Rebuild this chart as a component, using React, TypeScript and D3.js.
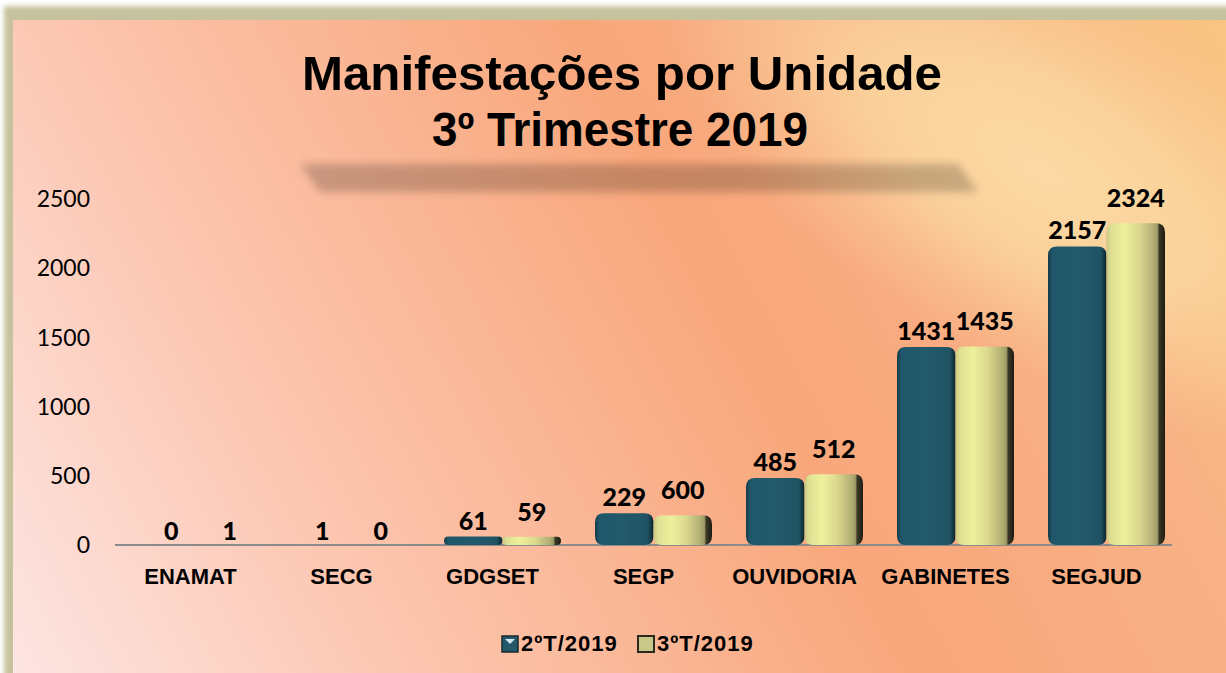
import React from 'react';
import * as d3 from 'd3';

const titleLines = ['Manifestações por Unidade', '3º Trimestre 2019'];
const categories = ['ENAMAT', 'SECG', 'GDGSET', 'SEGP', 'OUVIDORIA', 'GABINETES', 'SEGJUD'];
const seriesNames = ['2ºT/2019', '3ºT/2019'];
// bar heights as drawn in the picture
const values2T = [0, 1, 61, 229, 485, 1431, 2157];
const values3T = [1, 0, 59, 215, 512, 1435, 2324];
// data labels as printed in the picture
const labels2T = ['0', '1', '61', '229', '485', '1431', '2157'];
const labels3T = ['1', '0', '59', '600', '512', '1435', '2324'];
const yTicks = [0, 500, 1000, 1500, 2000, 2500];

const W = 1226;
const H = 673;

function roundedBar(x0: number, y0: number, w: number, h: number) {
  const r = Math.min(9, h / 2, w / 2);
  const x1 = x0 + w;
  const y1 = y0 + h;
  const p = d3.path();
  p.moveTo(x0 + r, y0);
  p.lineTo(x1 - r, y0);
  p.quadraticCurveTo(x1, y0, x1, y0 + r);
  p.lineTo(x1, y1 - r);
  p.quadraticCurveTo(x1, y1, x1 - r, y1);
  p.lineTo(x0 + r, y1);
  p.quadraticCurveTo(x0, y1, x0, y1 - r);
  p.lineTo(x0, y0 + r);
  p.quadraticCurveTo(x0, y0, x0 + r, y0);
  p.closePath();
  return p.toString();
}

export default function App() {
  const x = d3.scaleBand<string>().domain(categories).range([115, 1172]);
  const xs = d3.scaleBand<string>().domain(seriesNames).range([27, 144]);
  const y = d3.scaleLinear().domain([0, 2500]).range([545, 199]);
  const series = [
    { name: seriesNames[0], values: values2T, labels: labels2T, fill: 'url(#gBlue)', labelOff: 7 },
    { name: seriesNames[1], values: values3T, labels: labels3T, fill: 'url(#gYellow)', labelOff: 16 },
  ];
  const catFont = '"Liberation Sans", Arial, sans-serif';
  const numFont = 'Lato, "Open Sans", sans-serif';

  return (
    <svg
      width={W}
      height={H}
      viewBox={`0 0 ${W} ${H}`}
      style={{ position: 'absolute', left: 0, top: 0, display: 'block' }}
    >
      <defs>
        <filter id="blurFrame" x="-10%" y="-10%" width="120%" height="120%">
          <feGaussianBlur stdDeviation="2.5" />
        </filter>
        <filter id="blurShadow" x="-10%" y="-50%" width="120%" height="200%">
          <feGaussianBlur stdDeviation="4" />
        </filter>
        <linearGradient id="bgLin" gradientUnits="userSpaceOnUse" x1="13" y1="673" x2="1226" y2="20">
          <stop offset="0" stopColor="#fde5e3" />
          <stop offset="0.25" stopColor="#fcc6b0" />
          <stop offset="0.58" stopColor="#f8a77b" />
          <stop offset="0.8" stopColor="#f8b085" />
          <stop offset="1" stopColor="#f9c582" />
        </linearGradient>
        <radialGradient
          id="bgRad"
          gradientUnits="userSpaceOnUse"
          cx="0"
          cy="0"
          r="1"
          gradientTransform="translate(1040,170) rotate(31) scale(430,190)"
        >
          <stop offset="0" stopColor="#fcdca6" stopOpacity="0.95" />
          <stop offset="0.45" stopColor="#fbd8a0" stopOpacity="0.8" />
          <stop offset="1" stopColor="#fbd09a" stopOpacity="0" />
        </radialGradient>
        <linearGradient id="gBlue" x1="0" x2="1" y1="0" y2="0">
          <stop offset="0" stopColor="#143a46" />
          <stop offset="0.07" stopColor="#20566a" />
          <stop offset="0.5" stopColor="#225a6b" />
          <stop offset="0.9" stopColor="#1f5364" />
          <stop offset="0.97" stopColor="#12323c" />
          <stop offset="1" stopColor="#0c2229" />
        </linearGradient>
        <linearGradient id="gYellow" x1="0" x2="1" y1="0" y2="0">
          <stop offset="0" stopColor="#c9c884" />
          <stop offset="0.08" stopColor="#e0e094" />
          <stop offset="0.3" stopColor="#eef09b" />
          <stop offset="0.55" stopColor="#dcd98f" />
          <stop offset="0.8" stopColor="#b3ae74" />
          <stop offset="0.87" stopColor="#9e9a64" />
          <stop offset="0.9" stopColor="#3a3826" />
          <stop offset="1" stopColor="#1c1c12" />
        </linearGradient>
      </defs>

      {/* frame */}
      <rect x={0} y={0} width={W} height={H} fill="#ffffff" />
      <rect x={4} y={6} width={W + 40} height={H + 40} fill="#c6c29e" filter="url(#blurFrame)" />
      <rect x={13} y={20} width={W - 13} height={H - 20} fill="url(#bgLin)" />
      <rect x={13} y={20} width={W - 13} height={H - 20} fill="url(#bgRad)" />

      {/* title shadow */}
      <path d="M300,164 L958,164 L978,192 L320,192 Z" fill="#000" opacity={0.2} filter="url(#blurShadow)" />

      {/* title */}
      <text
        x={622}
        y={90}
        textAnchor="middle"
        fontFamily={catFont}
        fontWeight="bold"
        fontSize={49}
        textLength={640}
        lengthAdjust="spacingAndGlyphs"
        fill="#000"
      >
        {titleLines[0]}
      </text>
      <text
        x={620}
        y={146}
        textAnchor="middle"
        fontFamily={catFont}
        fontWeight="bold"
        fontSize={49}
        textLength={376}
        lengthAdjust="spacingAndGlyphs"
        fill="#000"
      >
        {titleLines[1]}
      </text>

      {/* y axis labels */}
      {yTicks.map((t) => (
        <text
          key={t}
          x={90}
          y={y(t)}
          dy="0.36em"
          textAnchor="end"
          fontFamily={numFont}
          fontSize={23}
          fill="#000"
        >
          {t}
        </text>
      ))}

      {/* axis line */}
      <line x1={115} x2={1172} y1={y(0)} y2={y(0)} stroke="#8b8b8b" strokeWidth={2} />

      {/* bars */}
      {series.map((s) =>
        categories.map((c, i) => {
          const v = s.values[i];
          const x0 = (x(c) as number) + (xs(s.name) as number);
          const w = xs.bandwidth();
          const top = y(v);
          const h = y(0) - top;
          return h >= 1 ? (
            <path key={s.name + c} d={roundedBar(x0, top, w, h)} fill={s.fill} />
          ) : null;
        })
      )}

      {/* data labels */}
      {series.map((s) =>
        categories.map((c, i) => {
          const v = s.values[i];
          const cx = (x(c) as number) + (xs(s.name) as number) + xs.bandwidth() / 2;
          const off = v < 10 ? 5 : s.labelOff;
          return (
            <text
              key={'l' + s.name + c}
              x={cx}
              y={y(v) - off}
              textAnchor="middle"
              fontFamily={numFont}
              fontWeight="900"
              fontSize={25}
              fill="#000"
            >
              {s.labels[i]}
            </text>
          );
        })
      )}

      {/* category labels */}
      {categories.map((c) => (
        <text
          key={'c' + c}
          x={(x(c) as number) + x.bandwidth() / 2}
          y={584}
          textAnchor="middle"
          fontFamily={catFont}
          fontWeight="bold"
          fontSize={22}
          fill="#000"
        >
          {c}
        </text>
      ))}

      {/* legend */}
      <g>
        <rect x={502} y={636} width={16} height={16} fill="#21596a" stroke="#1a2a2e" strokeWidth={1.5} />
        <path d="M505,639 L515,639 L510,644 Z" fill="#e8f4f8" opacity={0.9} />
        <text x={521} y={651} fontFamily={catFont} fontWeight="bold" fontSize={22} letterSpacing={1} fill="#000">
          {seriesNames[0]}
        </text>
        <rect x={638} y={636} width={16} height={16} fill="#c9c88a" stroke="#2a2a1c" strokeWidth={2} />
        <text x={657} y={651} fontFamily={catFont} fontWeight="bold" fontSize={22} letterSpacing={1} fill="#000">
          {seriesNames[1]}
        </text>
      </g>
    </svg>
  );
}
